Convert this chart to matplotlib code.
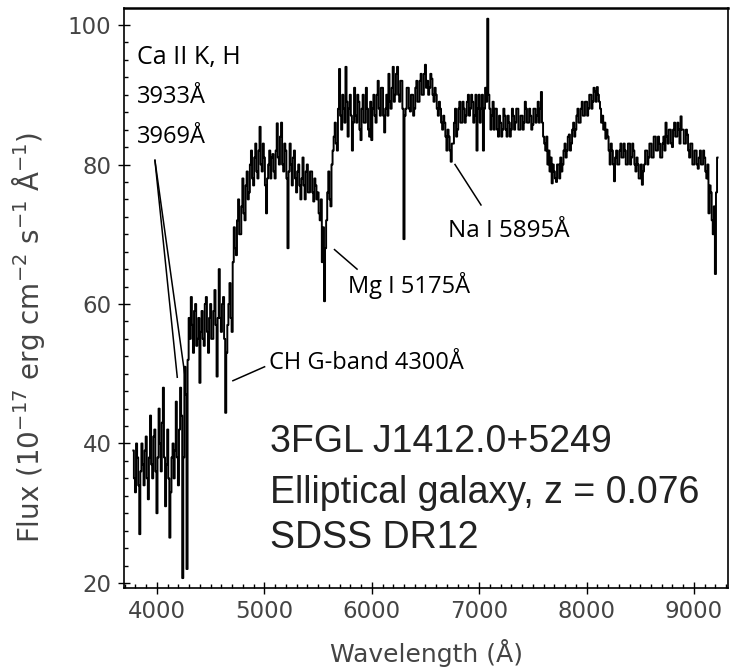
import numpy as np
import matplotlib
matplotlib.use('Agg')
import matplotlib.pyplot as plt
from matplotlib.ticker import MultipleLocator

# flux in units of 1e-17 erg/cm2/s/A, read every 10 A, split by start wavelength
step = 10
start_a = 3780
flux_a = [39, 35, 33, 40, 38, 34, 27, 36, 40, 37, 34, 39, 41, 35, 32, 38, 44, 37, 35, 41,
          42, 36, 30, 38, 45, 40, 36, 43, 48, 38, 31, 37, 42, 35, 26.5, 33, 38, 40, 35, 39,
          46, 38, 34, 42, 48, 44, 20.7, 38, 51, 47, 22, 52]
start_b = 4300
flux_b = [58, 55, 61, 57, 53, 59, 60, 54, 55, 58, 48.7, 56, 59, 55, 54, 60, 61, 56, 53, 58,
          60, 55, 55, 59, 62, 57, 49.6, 58, 65, 58, 56, 60, 61, 55, 44.4, 53, 57, 60, 63, 58]
start_c = 4700
flux_c = [56, 66, 71, 68, 67, 72, 75, 70, 70, 74, 78, 73, 72, 77, 79, 75, 76, 80, 82, 78,
          77, 81, 83, 79, 78, 82, 85.4, 80, 79, 83, 81, 77, 73, 78, 80, 82, 78, 81, 81.5, 79,
          78, 82, 85.9, 81, 80, 84, 86, 80, 79, 83, 82, 78, 68, 79, 83, 80, 77, 81, 82, 78]
start_d = 5300
flux_d = [76, 79, 80, 77, 75, 78, 81, 77, 75, 79, 80, 76, 76, 79, 79, 76, 74.7, 78, 77, 75,
          76, 73, 72, 75, 66, 71, 60.4, 68, 72, 76, 79, 75, 74, 80, 82, 84, 86, 83, 82, 88,
          93.7, 87, 85, 90, 88, 86, 94, 89, 84, 88, 90, 87, 82, 86, 91, 87, 86, 90, 89, 85,
          83.5, 88, 90, 86, 86, 91, 88, 85, 84, 89]
start_e = 6000
flux_e = [83.5, 88, 90, 87, 86, 90, 92, 88, 87, 91, 91, 87, 84.6, 88, 90, 87, 93, 89, 88, 91,
          94, 89, 90, 93, 94, 90, 89, 92, 92, 88, 69.3, 87, 88, 91, 91, 88, 87.6, 90, 90, 87,
          88, 91, 92, 89, 89, 92, 93, 90, 90, 93, 94.3, 91, 92, 90, 91, 93, 92.3, 90, 89, 91,
          90, 88, 87, 89, 88, 86, 85, 87, 86, 84, 82, 85, 84, 82, 80.4, 83, 83, 86, 88, 84,
          85, 88, 89, 86, 86, 89, 88, 86, 87, 89, 90, 87, 88, 90, 89, 86, 87, 90, 82, 88]
start_f = 7000
flux_f = [90, 86, 88, 90, 82, 88, 91, 89, 100.9, 90, 88, 85, 87, 89, 85, 88, 88, 85, 84, 87,
          86, 84, 85, 88, 87, 85, 84, 87, 86, 84, 85, 88, 87, 85, 86, 88, 88, 85, 85, 87,
          87, 85, 86, 89, 88, 86, 86, 88, 87, 85, 85.7, 88, 88, 86, 87, 89, 86, 88, 90.4, 86]
start_g = 7600
flux_g = [84, 83, 82, 84, 80, 82, 79, 81, 77.3, 80, 79, 78, 77.5, 80, 80, 78, 81, 79, 80, 82,
          83, 81, 82, 84, 84.3, 82, 83, 85, 86, 84, 85, 87, 88, 86, 86, 88, 89, 87, 87, 89,
          89, 87, 88, 90, 90, 88, 89, 91, 90.5, 89, 91.1, 90, 89, 88, 86, 87, 85, 86, 83.7, 85,
          84, 82, 80, 83, 82, 80, 77.6, 81, 82, 80, 80, 82, 83, 81, 81, 83, 82, 80, 80, 83]
start_h = 8400
flux_h = [83, 80, 81, 83, 82, 80, 79, 81, 80, 78, 78, 80, 77.1, 79, 80, 82, 82, 80, 81, 83,
          83, 81, 81, 84, 84, 82, 82, 84, 83, 81, 81, 83, 84, 82, 86, 84, 83, 85, 85, 83,
          82.5, 85, 86, 84, 84, 86, 85, 83, 86.9, 85, 85, 83, 83, 85, 84.3, 82, 81, 83, 83, 80,
          80, 82, 82, 80, 79.4, 81, 82, 80, 80, 82, 81, 79, 78, 80, 73, 77, 76, 72, 70, 74,
          64.3, 76, 81]

segments = [(start_a, flux_a), (start_b, flux_b), (start_c, flux_c), (start_d, flux_d),
            (start_e, flux_e), (start_f, flux_f), (start_g, flux_g), (start_h, flux_h)]
wave = np.concatenate([s + step * np.arange(len(f)) for s, f in segments])
flux = np.concatenate([np.array(f, dtype=float) for s, f in segments])

ann_font = ['Open Sans', 'DejaVu Sans']
big_font = ['Liberation Sans', 'DejaVu Sans']

fig = plt.figure(figsize=(7.3, 6.7), dpi=100)
ax = fig.add_axes([124 / 730, 1 - 588 / 670, 604 / 730, 580 / 670])

ax.plot(wave, flux, color='black', lw=1.4, drawstyle='steps-mid')

ax.set_xlim(3693, 9317)
ax.set_ylim(19.28, 102.44)
ax.xaxis.set_major_locator(MultipleLocator(1000))
ax.xaxis.set_minor_locator(MultipleLocator(100))
ax.yaxis.set_major_locator(MultipleLocator(20))
ax.yaxis.set_minor_locator(MultipleLocator(2.5))
ax.tick_params(which='major', direction='inout', length=8, width=1.0,
               labelsize=16.5, labelcolor='#444444', pad=5)
ax.tick_params(which='minor', direction='in', length=3, width=1.0)
for s in ax.spines.values():
    s.set_linewidth(1.2)
ax.spines['top'].set_linewidth(1.8)

ax.set_xlabel('Wavelength (Å)', fontsize=18, color='#444444')
ax.xaxis.set_label_coords(0.5, -0.088)
ax.set_ylabel(r'Flux (10$^{-17}$ erg cm$^{-2}$ s$^{-1}$ Å$^{-1}$)', fontsize=20,
              color='#444444')
ax.yaxis.set_label_coords(-0.128, 0.432)

# line identifications
kw = dict(color='black', lw=1.1)
ax.plot([3981, 4189], [80.6, 49.5], **kw)
ax.plot([3981, 4258], [80.6, 50.0], **kw)
ax.plot([4707, 5002], [49.0, 51.0], **kw)
ax.plot([5653, 5863], [67.8, 65.0], **kw)
ax.plot([6775, 7017], [80.0, 74.2], **kw)

ax.text(3814, 95.4, 'Ca II K, H', fontsize=18, family=ann_font, va='center')
ax.text(3814, 89.7, '3933Å', fontsize=17, family=ann_font, va='center')
ax.text(3814, 84.0, '3969Å', fontsize=17, family=ann_font, va='center')
ax.text(5040, 51.6, 'CH G-band 4300Å', fontsize=17, family=ann_font, va='center')
ax.text(5780, 62.7, 'Mg I 5175Å', fontsize=17, family=ann_font, va='center')
ax.text(6710, 70.5, 'Na I 5895Å', fontsize=17.5, family=ann_font, va='center')

ax.text(5052, 40.2, '3FGL J1412.0+5249', fontsize=27, family=big_font,
        color='#222222', va='center')
ax.text(5052, 32.9, 'Elliptical galaxy, z = 0.076', fontsize=27, family=big_font,
        color='#222222', va='center')
ax.text(5052, 26.5, 'SDSS DR12', fontsize=27, family=big_font,
        color='#222222', va='center')

fig.savefig('out.png', dpi=100)
